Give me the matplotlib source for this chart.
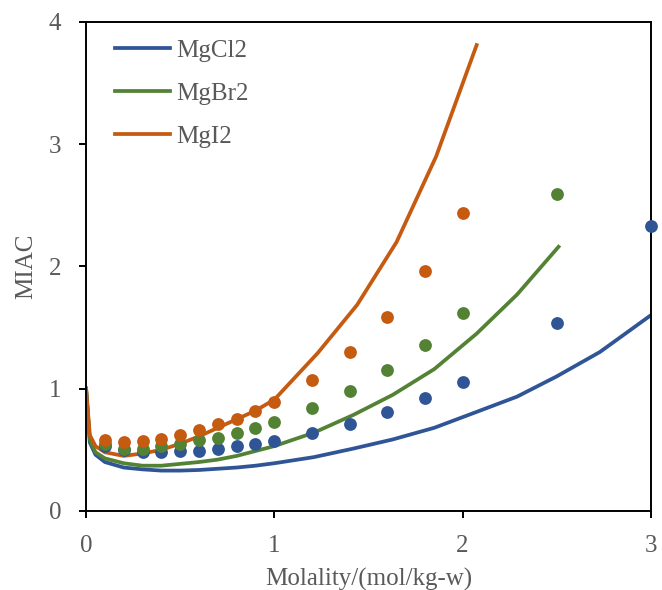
import matplotlib.pyplot as plt

# model curves (molality vs MIAC)
x_cl = [0, 0.02, 0.05, 0.1, 0.2, 0.3, 0.4, 0.5, 0.6, 0.7, 0.8, 0.9, 1.0,
        1.21, 1.42, 1.63, 1.85, 2.075, 2.29, 2.5, 2.73, 3.0]
y_cl = [1.0, 0.56, 0.46, 0.40, 0.355, 0.34, 0.33, 0.33, 0.335, 0.345, 0.355, 0.37, 0.39,
        0.44, 0.51, 0.585, 0.68, 0.81, 0.935, 1.10, 1.30, 1.60]

x_br = [0, 0.02, 0.05, 0.1, 0.2, 0.3, 0.4, 0.5, 0.6, 0.7, 0.8, 0.9, 1.0,
        1.21, 1.42, 1.63, 1.85, 2.075, 2.29, 2.51]
y_br = [1.0, 0.58, 0.48, 0.43, 0.39, 0.37, 0.37, 0.385, 0.40, 0.42, 0.45, 0.49, 0.53,
        0.64, 0.785, 0.95, 1.16, 1.45, 1.77, 2.16]

x_i = [0, 0.02, 0.05, 0.1, 0.2, 0.3, 0.4, 0.5, 0.6, 0.7, 0.8, 0.9, 1.0,
       1.23, 1.44, 1.65, 1.86, 2.075]
y_i = [1.0, 0.62, 0.53, 0.48, 0.45, 0.47, 0.50, 0.55, 0.61, 0.68, 0.75, 0.82, 0.91,
       1.29, 1.685, 2.20, 2.90, 3.81]

# experimental points
m_exp = [0.1, 0.2, 0.3, 0.4, 0.5, 0.6, 0.7, 0.8, 0.9, 1.0, 1.2, 1.4, 1.6, 1.8, 2.0, 2.5, 3.0]
cl_exp = [0.53, 0.50, 0.48, 0.48, 0.49, 0.49, 0.51, 0.53, 0.545, 0.57, 0.635, 0.71,
          0.81, 0.92, 1.055, 1.54, 2.33]
m_br = [0.1, 0.2, 0.3, 0.4, 0.5, 0.6, 0.7, 0.8, 0.9, 1.0, 1.2, 1.4, 1.6, 1.8, 2.0, 2.5]
br_exp = [0.55, 0.51, 0.51, 0.53, 0.55, 0.58, 0.60, 0.64, 0.68, 0.73, 0.84, 0.98,
          1.15, 1.36, 1.62, 2.59]
m_i = [0.1, 0.2, 0.3, 0.4, 0.5, 0.6, 0.7, 0.8, 0.9, 1.0, 1.2, 1.4, 1.6, 1.8, 2.0]
i_exp = [0.58, 0.56, 0.575, 0.59, 0.62, 0.66, 0.71, 0.755, 0.82, 0.89, 1.07, 1.30,
         1.59, 1.96, 2.435]

blue = '#2F5597'
green = '#548235'
orange = '#C55A11'
grey = '#595959'

plt.rcParams['font.family'] = ['Liberation Serif']

fig = plt.figure(figsize=(6.62, 5.90), dpi=100)
ax = fig.add_axes([0.130, 0.134, 0.853, 0.829])

ax.plot(x_cl, y_cl, color=blue, lw=2.7, label='MgCl2')
ax.plot(x_br, y_br, color=green, lw=2.7, label='MgBr2')
ax.plot(x_i, y_i, color=orange, lw=2.7, label='MgI2')

ax.scatter(m_exp, cl_exp, s=85, color=blue, zorder=3, clip_on=False, linewidths=0)
ax.scatter(m_br, br_exp, s=85, color=green, zorder=3, clip_on=False, linewidths=0)
ax.scatter(m_i, i_exp, s=85, color=orange, zorder=3, clip_on=False, linewidths=0)

ax.set_xlim(0, 3)
ax.set_ylim(0, 4)
ax.set_xticks([0, 1, 2, 3])
ax.set_yticks([0, 1, 2, 3, 4])

for s in ax.spines.values():
    s.set_linewidth(1.4)
    s.set_color('black')

ax.tick_params(axis='both', direction='out', length=5, width=1.4, color='black',
               labelsize=18, labelcolor=grey)
ax.tick_params(axis='y', pad=13)
ax.tick_params(axis='x', pad=12)

ax.set_xlabel('Molality/(mol/kg-w)', fontsize=18, color=grey, labelpad=8)
ax.set_ylabel('MIAC', fontsize=18, color=grey, labelpad=8)

leg = ax.legend(loc='upper left', bbox_to_anchor=(0.051, 0.964), frameon=False,
                fontsize=18, handlelength=2.2, labelspacing=0.82, borderpad=0,
                borderaxespad=0, handletextpad=0.25)
for t in leg.get_texts():
    t.set_color(grey)

fig.savefig('out.png')
